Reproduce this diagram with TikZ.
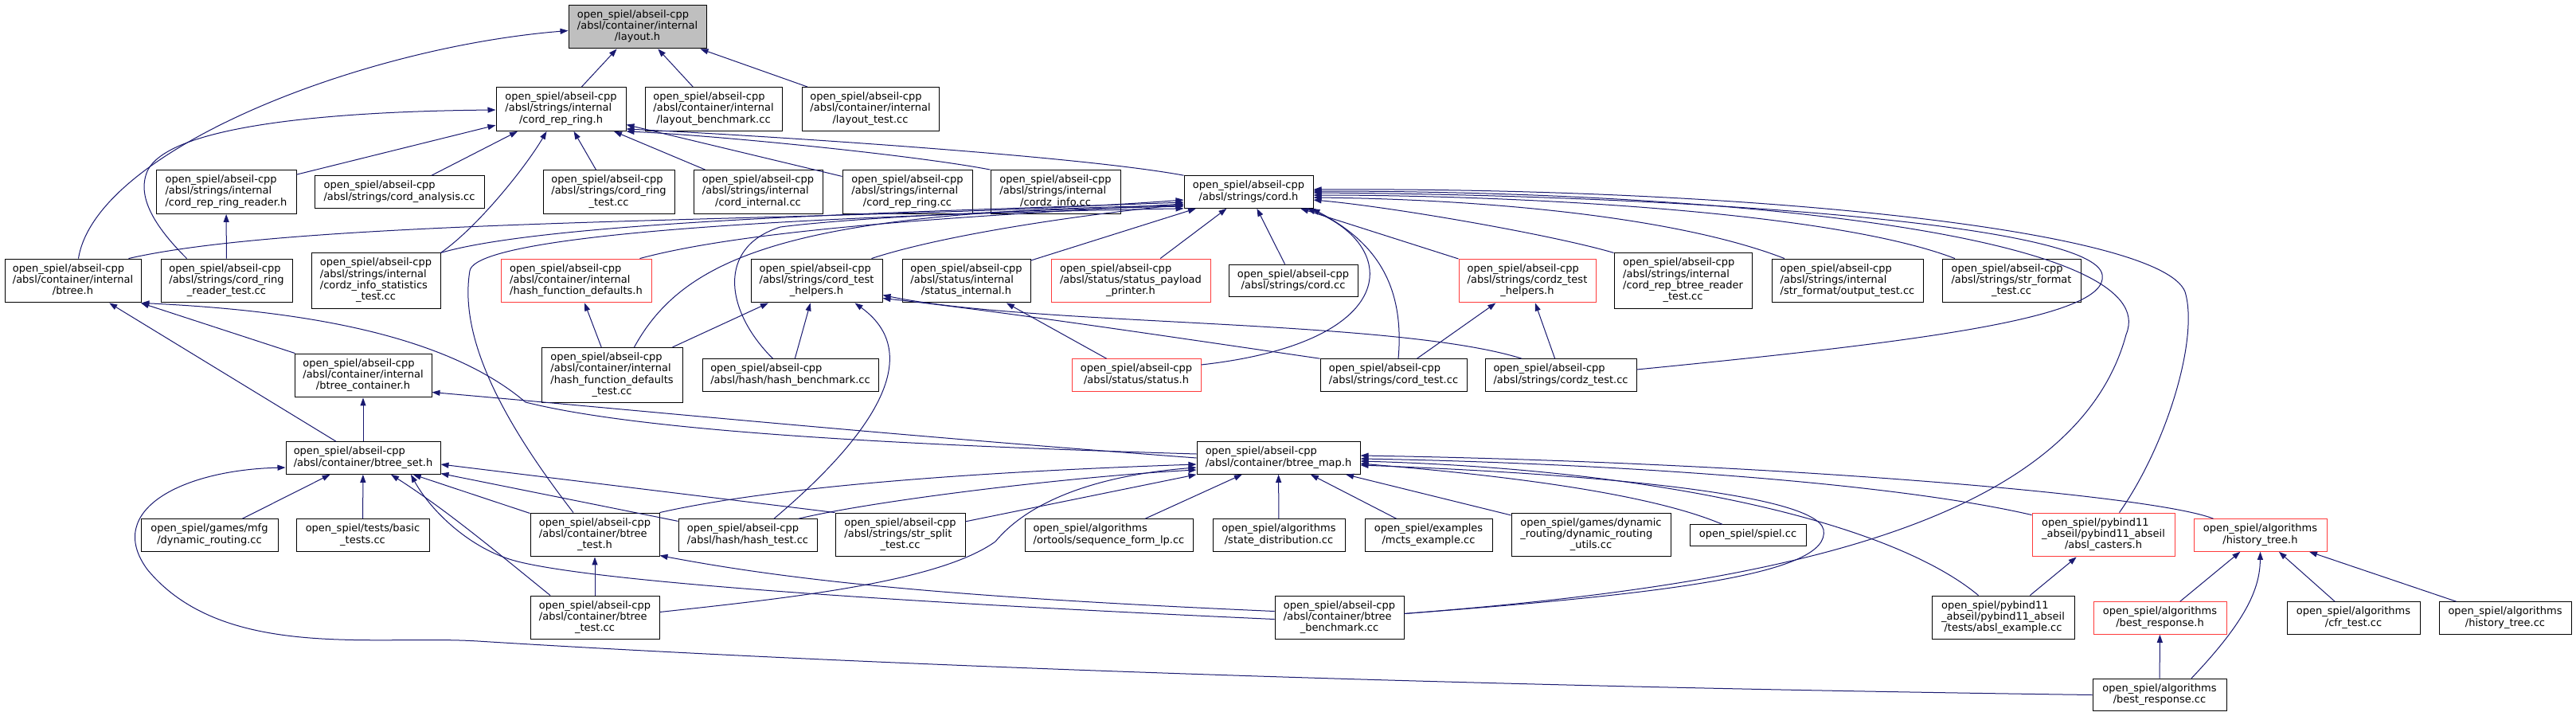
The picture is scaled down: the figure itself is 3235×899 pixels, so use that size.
\documentclass[tikz,border=0pt]{standalone}
\usepackage{fontspec}
\setmainfont{DejaVu Sans}
\usetikzlibrary{arrows.meta}
\definecolor{edgeblue}{RGB}{25,25,112}
\definecolor{truncred}{RGB}{255,60,60}
\definecolor{rootgray}{RGB}{191,191,191}
% left-aligned lines, last line centred
\newcommand{\flab}[2]{\begin{tabular}{@{}l@{}}#1\\\multicolumn{1}{@{}c@{}}{#2}\end{tabular}}
\begin{document}
\begin{tikzpicture}[x=1pt, y=-1pt,
  box/.style={draw=black, fill=white, line width=1pt, inner xsep=0pt, inner ysep=6pt, font=\fontsize{13}{14.3}\selectfont},
  rootbox/.style={box, fill=rootgray},
  redbox/.style={box, draw=truncred},
  inc/.style={draw=edgeblue, line width=1pt, -{Triangle[length=10pt,width=7pt]}}]
\path[fill=white, use as bounding box] (0,0) rectangle (3235,899);
% Row 0
\node[rootbox, minimum width=173pt] (layout) at (800.5,33.5) {\flab{open\_spiel/abseil-cpp\\/absl/container/internal}{/layout.h}};
% Row 1
\node[box, minimum width=163pt] (ringh) at (704.5,137) {\flab{open\_spiel/abseil-cpp\\/absl/strings/internal}{/cord\_rep\_ring.h}};
\node[box, minimum width=172pt] (laybench) at (896,137) {\flab{open\_spiel/abseil-cpp\\/absl/container/internal}{/layout\_benchmark.cc}};
\node[box, minimum width=172pt] (laytest) at (1093,137) {\flab{open\_spiel/abseil-cpp\\/absl/container/internal}{/layout\_test.cc}};
% Row 2
\node[box, minimum width=176pt] (ringreader) at (284,241) {\flab{open\_spiel/abseil-cpp\\/absl/strings/internal}{/cord\_rep\_ring\_reader.h}};
\node[box, minimum width=213pt] (analysis) at (501.5,241) {\flab{open\_spiel/abseil-cpp}{/absl/strings/cord\_analysis.cc}};
\node[box, minimum width=165pt] (ringtest) at (764.5,241) {\flab{open\_spiel/abseil-cpp\\/absl/strings/cord\_ring}{\_test.cc}};
\node[box, minimum width=162pt] (internalcc) at (952,241) {\flab{open\_spiel/abseil-cpp\\/absl/strings/internal}{/cord\_internal.cc}};
\node[box, minimum width=163pt] (ringcc) at (1139.5,241) {\flab{open\_spiel/abseil-cpp\\/absl/strings/internal}{/cord\_rep\_ring.cc}};
\node[box, minimum width=163pt] (cordzinfo) at (1325.5,241) {\flab{open\_spiel/abseil-cpp\\/absl/strings/internal}{/cordz\_info.cc}};
\node[box, minimum width=162pt] (cordh) at (1568,241) {\flab{open\_spiel/abseil-cpp}{/absl/strings/cord.h}};
% Row 3
\node[box, minimum width=171pt] (btree) at (91.5,352.5) {\flab{open\_spiel/abseil-cpp\\/absl/container/internal}{/btree.h}};
\node[box, minimum width=165pt] (readertest) at (284.5,352.5) {\flab{open\_spiel/abseil-cpp\\/absl/strings/cord\_ring}{\_reader\_test.cc}};
\node[box, minimum width=162pt] (statstest) at (472,352.5) {\flab{open\_spiel/abseil-cpp\\/absl/strings/internal\\/cordz\_info\_statistics}{\_test.cc}};
\node[redbox, minimum width=189pt] (hashdef) at (723.5,352.5) {\flab{open\_spiel/abseil-cpp\\/absl/container/internal}{/hash\_function\_defaults.h}};
\node[box, minimum width=165pt] (testhelpers) at (1025.5,352.5) {\flab{open\_spiel/abseil-cpp\\/absl/strings/cord\_test}{\_helpers.h}};
\node[box, minimum width=161pt] (statusinternal) at (1213.5,352.5) {\flab{open\_spiel/abseil-cpp\\/absl/status/internal}{/status\_internal.h}};
\node[redbox, minimum width=200pt] (payload) at (1420,352.5) {\flab{open\_spiel/abseil-cpp\\/absl/status/status\_payload}{\_printer.h}};
\node[box, minimum width=162pt] (cordcc) at (1624,352.5) {\flab{open\_spiel/abseil-cpp}{/absl/strings/cord.cc}};
\node[redbox, minimum width=172pt] (cordzhelpers) at (1918,352.5) {\flab{open\_spiel/abseil-cpp\\/absl/strings/cordz\_test}{\_helpers.h}};
\node[box, minimum width=173pt] (btreereader) at (2113.5,352.5) {\flab{open\_spiel/abseil-cpp\\/absl/strings/internal\\/cord\_rep\_btree\_reader}{\_test.cc}};
\node[box, minimum width=190pt] (outputtest) at (2320,352.5) {\flab{open\_spiel/abseil-cpp\\/absl/strings/internal}{/str\_format/output\_test.cc}};
\node[box, minimum width=174pt] (strformat) at (2526,352.5) {\flab{open\_spiel/abseil-cpp\\/absl/strings/str\_format}{\_test.cc}};
% Row 4
\node[box, minimum width=172pt] (container) at (456,471.5) {\flab{open\_spiel/abseil-cpp\\/absl/container/internal}{/btree\_container.h}};
\node[box, minimum width=177pt] (hashdeftest) at (768.5,471) {\flab{open\_spiel/abseil-cpp\\/absl/container/internal\\/hash\_function\_defaults}{\_test.cc}};
\node[box, minimum width=221pt] (hashbench) at (992.5,471) {\flab{open\_spiel/abseil-cpp}{/absl/hash/hash\_benchmark.cc}};
\node[redbox, minimum width=162pt] (status) at (1427,471) {\flab{open\_spiel/abseil-cpp}{/absl/status/status.h}};
\node[box, minimum width=184pt] (cordtest) at (1750,471) {\flab{open\_spiel/abseil-cpp}{/absl/strings/cord\_test.cc}};
\node[box, minimum width=190pt] (cordztest) at (1960,471) {\flab{open\_spiel/abseil-cpp}{/absl/strings/cordz\_test.cc}};
% Row 5
\node[box, minimum width=194pt] (btreeset) at (456,575) {\flab{open\_spiel/abseil-cpp}{/absl/container/btree\_set.h}};
\node[box, minimum width=205pt] (btreemap) at (1605.5,575) {\flab{open\_spiel/abseil-cpp}{/absl/container/btree\_map.h}};
% Row 6
\node[box, minimum width=172pt] (mfgrouting) at (263,672) {\flab{open\_spiel/games/mfg}{/dynamic\_routing.cc}};
\node[box, minimum width=167pt] (basictests) at (455.5,672) {\flab{open\_spiel/tests/basic}{\_tests.cc}};
\node[box, minimum width=162pt] (btreetesth) at (747,671.5) {\flab{open\_spiel/abseil-cpp\\/absl/container/btree}{\_test.h}};
\node[box, minimum width=174pt] (hashtest) at (939,672) {\flab{open\_spiel/abseil-cpp}{/absl/hash/hash\_test.cc}};
\node[box, minimum width=163pt] (strsplit) at (1130.5,671.5) {\flab{open\_spiel/abseil-cpp\\/absl/strings/str\_split}{\_test.cc}};
\node[box, minimum width=211pt] (seqformlp) at (1392.5,672) {\flab{open\_spiel/algorithms}{/ortools/sequence\_form\_lp.cc}};
\node[box, minimum width=166pt] (statedist) at (1606,672) {\flab{open\_spiel/algorithms}{/state\_distribution.cc}};
\node[box, minimum width=160pt] (mcts) at (1794,672) {\flab{open\_spiel/examples}{/mcts\_example.cc}};
\node[box, minimum width=200pt] (routingutils) at (1998,671.5) {\flab{open\_spiel/games/dynamic\\\_routing/dynamic\_routing}{\_utils.cc}};
\node[box, minimum width=146pt] (spiel) at (2195,672) {\strut open\_spiel/spiel.cc};
\node[redbox, minimum width=179pt] (casters) at (2641.5,671.5) {\flab{open\_spiel/pybind11\\\_abseil/pybind11\_abseil}{/absl\_casters.h}};
\node[redbox, minimum width=167pt] (historyh) at (2838.5,672) {\flab{open\_spiel/algorithms}{/history\_tree.h}};
% Row 7
\node[box, minimum width=162pt] (btreetestcc) at (747,775.5) {\flab{open\_spiel/abseil-cpp\\/absl/container/btree}{\_test.cc}};
\node[box, minimum width=162pt] (btreebench) at (1682,775.5) {\flab{open\_spiel/abseil-cpp\\/absl/container/btree}{\_benchmark.cc}};
\node[box, minimum width=179pt] (abslexample) at (2515.5,775.5) {\flab{open\_spiel/pybind11\\\_abseil/pybind11\_abseil}{/tests/absl\_example.cc}};
\node[redbox, minimum width=167pt] (bestresph) at (2712.5,776) {\flab{open\_spiel/algorithms}{/best\_response.h}};
\node[box, minimum width=167pt] (cfrtest) at (2955.5,776) {\flab{open\_spiel/algorithms}{/cfr\_test.cc}};
\node[box, minimum width=166pt] (historycc) at (3146,776) {\flab{open\_spiel/algorithms}{/history\_tree.cc}};
% Row 8
\node[box, minimum width=168pt] (bestrespcc) at (2712,872.5) {\flab{open\_spiel/algorithms}{/best\_response.cc}};
% Straight includes
\foreach \a/\b in {ringh/layout, laybench/layout, laytest/layout, ringreader/ringh, analysis/ringh,
  ringtest/ringh, internalcc/ringh, ringcc/ringh, readertest/ringreader, container/btree,
  btreeset/btree, btreeset/container, hashdeftest/hashdef, hashdeftest/testhelpers,
  hashbench/testhelpers, status/statusinternal, cordtest/cordzhelpers, cordztest/cordzhelpers,
  statusinternal/cordh, payload/cordh, cordcc/cordh, cordzhelpers/cordh, mfgrouting/btreeset,
  basictests/btreeset, btreetesth/btreeset, hashtest/btreeset, seqformlp/btreemap,
  statedist/btreemap, mcts/btreemap, routingutils/btreemap, strsplit/btreemap,
  btreetestcc/btreetesth, abslexample/casters, bestresph/historyh, cfrtest/historyh,
  historycc/historyh, bestrespcc/bestresph} {
  \draw[inc] (\a) -- (\b);
}
\draw[inc] (strsplit.north west) -- ([yshift=-8]btreeset.east);
% Into layout.h and cord_rep_ring.h
\draw[inc] ([xshift=7]btree.north) .. controls (120,190) and (450,60) .. ([yshift=-5]layout.west);
\draw[inc] ([xshift=-50]readertest.north) .. controls (200,290) and (170,250) .. (185,215) .. controls (210,160) and (400,140) .. ([yshift=-1]ringh.west);
\draw[inc] (statstest.north east) .. controls (600,285) and (660,210) .. ([xshift=-18]ringh.south);
\draw[inc] (cordzinfo.north west) .. controls (1150,195) and (900,170) .. (ringh.south east);
\draw[inc] (cordh.north west) .. controls (1350,195) and (950,170) .. ([yshift=3]ringh.south east);
% Into cord.h
\draw[inc] ([xshift=-16]btree.north east) .. controls (400,270) and (1100,280) .. ([yshift=-10]cordh.west);
\draw[inc] (statstest.north east) .. controls (700,275) and (1200,265) .. ([yshift=-13]cordh.west);
\draw[inc] ([xshift=-15]hashdef.north east) .. controls (950,285) and (1250,270) .. ([yshift=-15]cordh.west);
\draw[inc] ([xshift=28]hashdeftest.north) .. controls (860,320) and (1000,265) .. ([yshift=-17]cordh.west);
\draw[inc] ([xshift=-22]hashbench.north) .. controls (910,390) and (900,310) .. (980,285) .. controls (1100,270) and (1350,262) .. ([yshift=-18]cordh.west);
\draw[inc] ([xshift=-27]btreetesth.north) .. controls (640,540) and (575,430) .. (590,340) .. controls (600,280) and (1300,265) .. (cordh.south west);
\draw[inc] ([xshift=-14]testhelpers.north east) .. controls (1200,290) and (1400,265) .. ([yshift=-16]cordh.west);
\draw[inc] ([yshift=13]status.east) .. controls (1760,430) and (1760,310) .. ([xshift=-8]cordh.south east);
\draw[inc] ([xshift=6]cordtest.north) .. controls (1765,350) and (1720,300) .. ([xshift=-2]cordh.south east);
\draw[inc] (btreereader.north west) .. controls (1950,295) and (1750,260) .. ([yshift=-10]cordh.east);
\draw[inc] ([xshift=-79]outputtest.north) .. controls (2100,270) and (1850,250) .. ([yshift=-7]cordh.east);
\draw[inc] ([xshift=-71]strformat.north) .. controls (2300,265) and (1900,245) .. ([yshift=-4]cordh.east);
\draw[inc] ([yshift=7]cordztest.east) .. controls (2400,430) and (2650,400) .. (2640,345) .. controls (2630,280) and (2100,245) .. ([yshift=-1]cordh.east);
\draw[inc] ([yshift=5]btreebench.east) .. controls (2150,740) and (2600,680) .. (2670,420) .. controls (2720,300) and (2200,240) .. ([yshift=1]cordh.east);
\draw[inc] ([xshift=20]casters.north) .. controls (2720,560) and (2760,430) .. (2745,370) .. controls (2730,290) and (2200,235) .. ([yshift=3]cordh.east);
% Into cord_test_helpers.h
\draw[inc] ([xshift=33]hashtest.north) .. controls (1080,560) and (1170,450) .. ([xshift=-35]testhelpers.south east);
\draw[inc] (cordtest.north west) .. controls (1450,420) and (1250,390) .. ([yshift=-22]testhelpers.east);
\draw[inc] ([xshift=-49]cordztest.north) .. controls (1750,400) and (1300,410) .. ([yshift=-18]testhelpers.east);
% Into btree.h and btree_container.h
\draw[inc] ([yshift=5]btreemap.west) .. controls (1100,558) and (800,540) .. (660,505) .. controls (560,420) and (380,390) .. (btree.south east);
\draw[inc] (btreemap.west) .. controls (1100,545) and (800,515) .. ([yshift=-21]container.east);
% Into btree_set.h
\draw[inc] ([xshift=-56]btreetestcc.north) .. controls (620,690) and (560,640) .. ([xshift=35]btreeset.south);
\draw[inc] ([yshift=-2]btreebench.west) .. controls (1100,755) and (750,730) .. (650,705) .. controls (590,690) and (540,640) .. ([xshift=60]btreeset.south);
\draw[inc] (bestrespcc.west) .. controls (1700,860) and (1000,830) .. (600,805) .. controls (470,797) and (280,830) .. (185,715) .. controls (130,640) and (230,590) .. ([yshift=-12]btreeset.west);
% Into btree_map.h and btree_test.h
\draw[inc] (btreetesth.north east) .. controls (1000,605) and (1300,590) .. ([yshift=-8]btreemap.west);
\draw[inc] ([xshift=64]hashtest.north) .. controls (1100,628) and (1350,598) .. ([yshift=-15]btreemap.west);
\draw[inc] ([yshift=7]btreetestcc.east) .. controls (1000,750) and (1180,730) .. (1250,680) .. controls (1300,620) and (1400,595) .. ([yshift=-12]btreemap.west);
\draw[inc] ([yshift=8]btreebench.west) .. controls (1200,750) and (1000,730) .. ([yshift=-26]btreetesth.east);
\draw[inc] ([xshift=-32]spiel.north) .. controls (2050,610) and (1800,590) .. ([yshift=-7]btreemap.east);
\draw[inc] ([yshift=-3]casters.north west) .. controls (2350,600) and (1950,580) .. ([yshift=-1]btreemap.east);
\draw[inc] ([xshift=-59]historyh.north) .. controls (2700,620) and (2200,580) .. ([yshift=3]btreemap.east);
\draw[inc] ([xshift=-31]abslexample.north) .. controls (2380,660) and (2100,590) .. ([yshift=-4]btreemap.east);
\draw[inc] ([yshift=5]btreebench.east) .. controls (2100,745) and (2300,720) .. (2290,665) .. controls (2280,620) and (2000,595) .. ([yshift=-9]btreemap.east);
% Into history_tree.h
\draw[inc] ([xshift=40]bestrespcc.north) .. controls (2820,780) and (2838,740) .. (historyh.south);
\end{tikzpicture}
\end{document}
